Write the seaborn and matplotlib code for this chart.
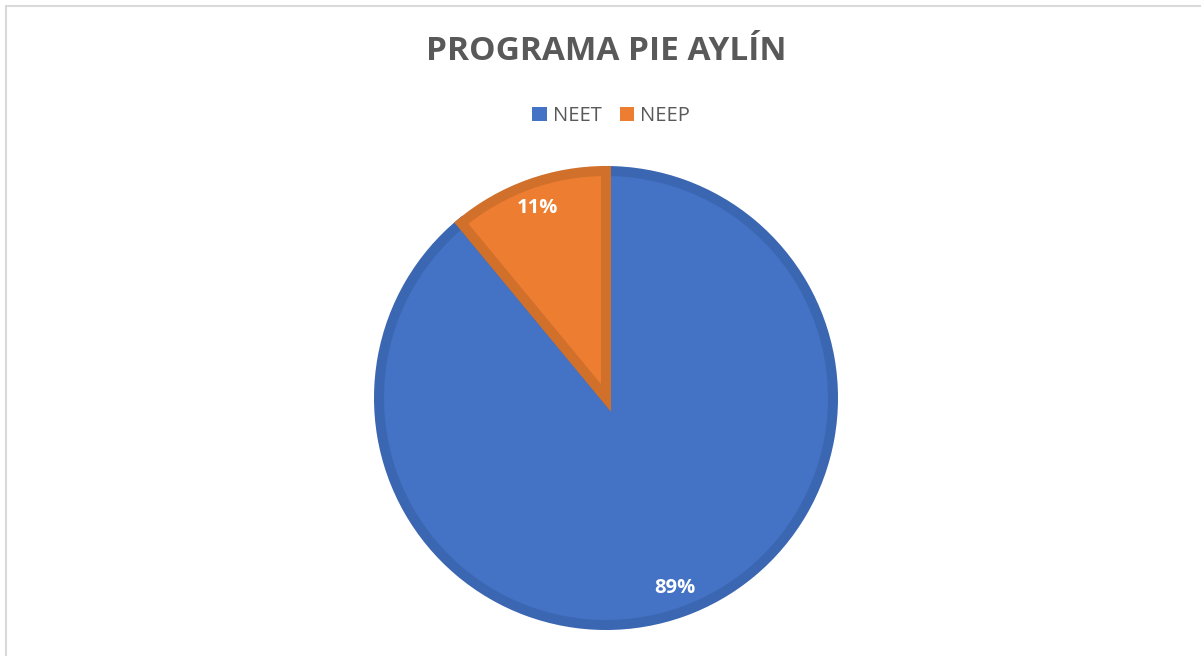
import matplotlib
matplotlib.use("Agg")
import matplotlib.pyplot as plt
import seaborn as sns
from matplotlib.patches import Patch
from matplotlib.lines import Line2D

categories = ["NEET", "NEEP"]
values = [89, 11]
face_colors = ["#4472C4", "#ED7D31"]
edge_colors = ["#3B66B2", "#D0702B"]
title_text = "PROGRAMA PIE AYLÍN"

sns.set_theme(style="white")
plt.rcParams["font.family"] = ["Open Sans", "DejaVu Sans"]

W, H = 1201, 656
fig = plt.figure(figsize=(W / 100, H / 100), dpi=100)
fig.patch.set_facecolor("white")

# frame lines (top and left)
fig.add_artist(Line2D([6 / W, 6 / W], [0, 1 - 6 / H], transform=fig.transFigure,
                      color="#D9D9D9", lw=1.5))
fig.add_artist(Line2D([6 / W, 1], [1 - 6 / H, 1 - 6 / H], transform=fig.transFigure,
                      color="#D9D9D9", lw=1.5))

cx, cy, half = 606, 398, 240
ax = fig.add_axes([(cx - half) / W, (H - cy - half) / H, 2 * half / W, 2 * half / H])

r = 227 / 240
wedges, texts, autotexts = ax.pie(
    values, colors=face_colors, startangle=90, counterclock=False,
    radius=r, autopct="%1.0f%%", pctdistance=0.89,
    wedgeprops=dict(linewidth=7.2), textprops=dict(color="white", fontsize=14.5, fontweight="bold"),
    frame=False,
)
for w, ec in zip(wedges, edge_colors):
    w.set_edgecolor(ec)
    w.set_joinstyle("miter")
ax.set_xlim(-1, 1)
ax.set_ylim(-1, 1)
ax.set_aspect("equal")
ax.axis("off")

fig.text(606 / W, 1 - 51 / H, title_text, ha="center", va="center",
         fontsize=24, fontweight="bold", color="#595959")

handles = [Patch(facecolor=c, edgecolor="none") for c in face_colors]
leg = fig.legend(handles, categories, loc="center", bbox_to_anchor=(611 / W, 1 - 116 / H),
                 ncol=2, frameon=False, fontsize=14.5, handlelength=0.7, handleheight=0.7,
                 handletextpad=0.3, columnspacing=0.9, labelcolor="#595959")

fig.savefig("out.png", dpi=100)
